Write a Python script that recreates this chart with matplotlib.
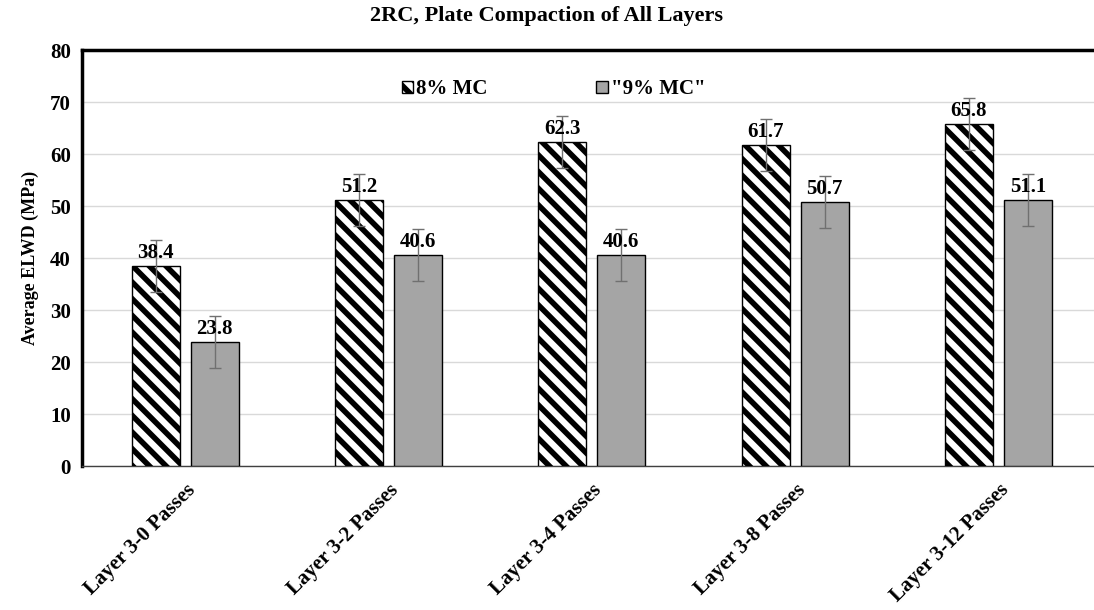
import numpy as np
import matplotlib.pyplot as plt

plt.rcParams['font.family'] = ['Liberation Serif', 'DejaVu Serif']
plt.rcParams['font.weight'] = 'bold'
plt.rcParams['hatch.linewidth'] = 4.0

categories = ['Layer 3-0 Passes', 'Layer 3-2 Passes', 'Layer 3-4 Passes',
              'Layer 3-8 Passes', 'Layer 3-12 Passes']
mc8 = [38.4, 51.2, 62.3, 61.7, 65.8]
mc9 = [23.8, 40.6, 40.6, 50.7, 51.1]
err8 = [5, 5, 5, 5, 5]
err9 = [5, 5, 5, 5, 5]

fig = plt.figure(figsize=(10.94, 6.10), dpi=100)
ax = fig.add_axes([0.075, 0.236, 0.925, 0.682])

x = np.arange(len(categories))
w = 0.236
off = 0.145

ax.bar(x - off, mc8, w, color='white', edgecolor='black', hatch='\\\\',
       linewidth=1.0, label='8% MC', zorder=3)
ax.bar(x + off, mc9, w, color='#a5a5a5', edgecolor='black',
       linewidth=1.0, label='"9% MC"', zorder=3)
ax.errorbar(x - off, mc8, yerr=err8, fmt='none', ecolor='#707070',
            elinewidth=1.0, capsize=4, zorder=4)
ax.errorbar(x + off, mc9, yerr=err9, fmt='none', ecolor='#707070',
            elinewidth=1.0, capsize=4, zorder=4)

for xi, v in zip(x - off, mc8):
    ax.text(xi, v + 0.6, f'{v:.1f}', ha='center', va='bottom', fontsize=15,
            fontweight='bold', zorder=5)
for xi, v in zip(x + off, mc9):
    ax.text(xi, v + 0.6, f'{v:.1f}', ha='center', va='bottom', fontsize=15,
            fontweight='bold', zorder=5)

ax.set_xlim(-0.507, 4.47)
ax.set_ylim(0, 80)
ax.set_yticks(range(0, 90, 10))
ax.yaxis.grid(True, color='#d9d9d9', linewidth=1.0, zorder=0)
ax.set_axisbelow(True)
ax.set_xticks(x)
ax.set_xticklabels(categories, rotation=45, ha='right', rotation_mode='anchor',
                   fontsize=15, fontweight='bold')
ax.tick_params(axis='both', length=0, labelsize=15, pad=8)
ax.tick_params(axis='x', pad=10)
for lab in ax.get_yticklabels():
    lab.set_fontweight('bold')

ax.spines['left'].set_linewidth(2.5)
ax.spines['top'].set_linewidth(2.5)
ax.spines['right'].set_visible(False)
ax.spines['bottom'].set_color('#404040')
ax.spines['bottom'].set_linewidth(1.0)

ax.set_ylabel('Average ELWD (MPa)', fontsize=13, fontweight='bold', labelpad=8)
fig.suptitle('2RC, Plate Compaction of All Layers', fontsize=16,
             fontweight='bold', y=0.99)

ax.legend(loc='upper center', bbox_to_anchor=(0.466, 0.975), ncol=2,
          frameon=False, fontsize=15, handlelength=0.55, handleheight=0.55,
          handletextpad=0.15, columnspacing=5.2)

fig.savefig('out.png', dpi=100)
